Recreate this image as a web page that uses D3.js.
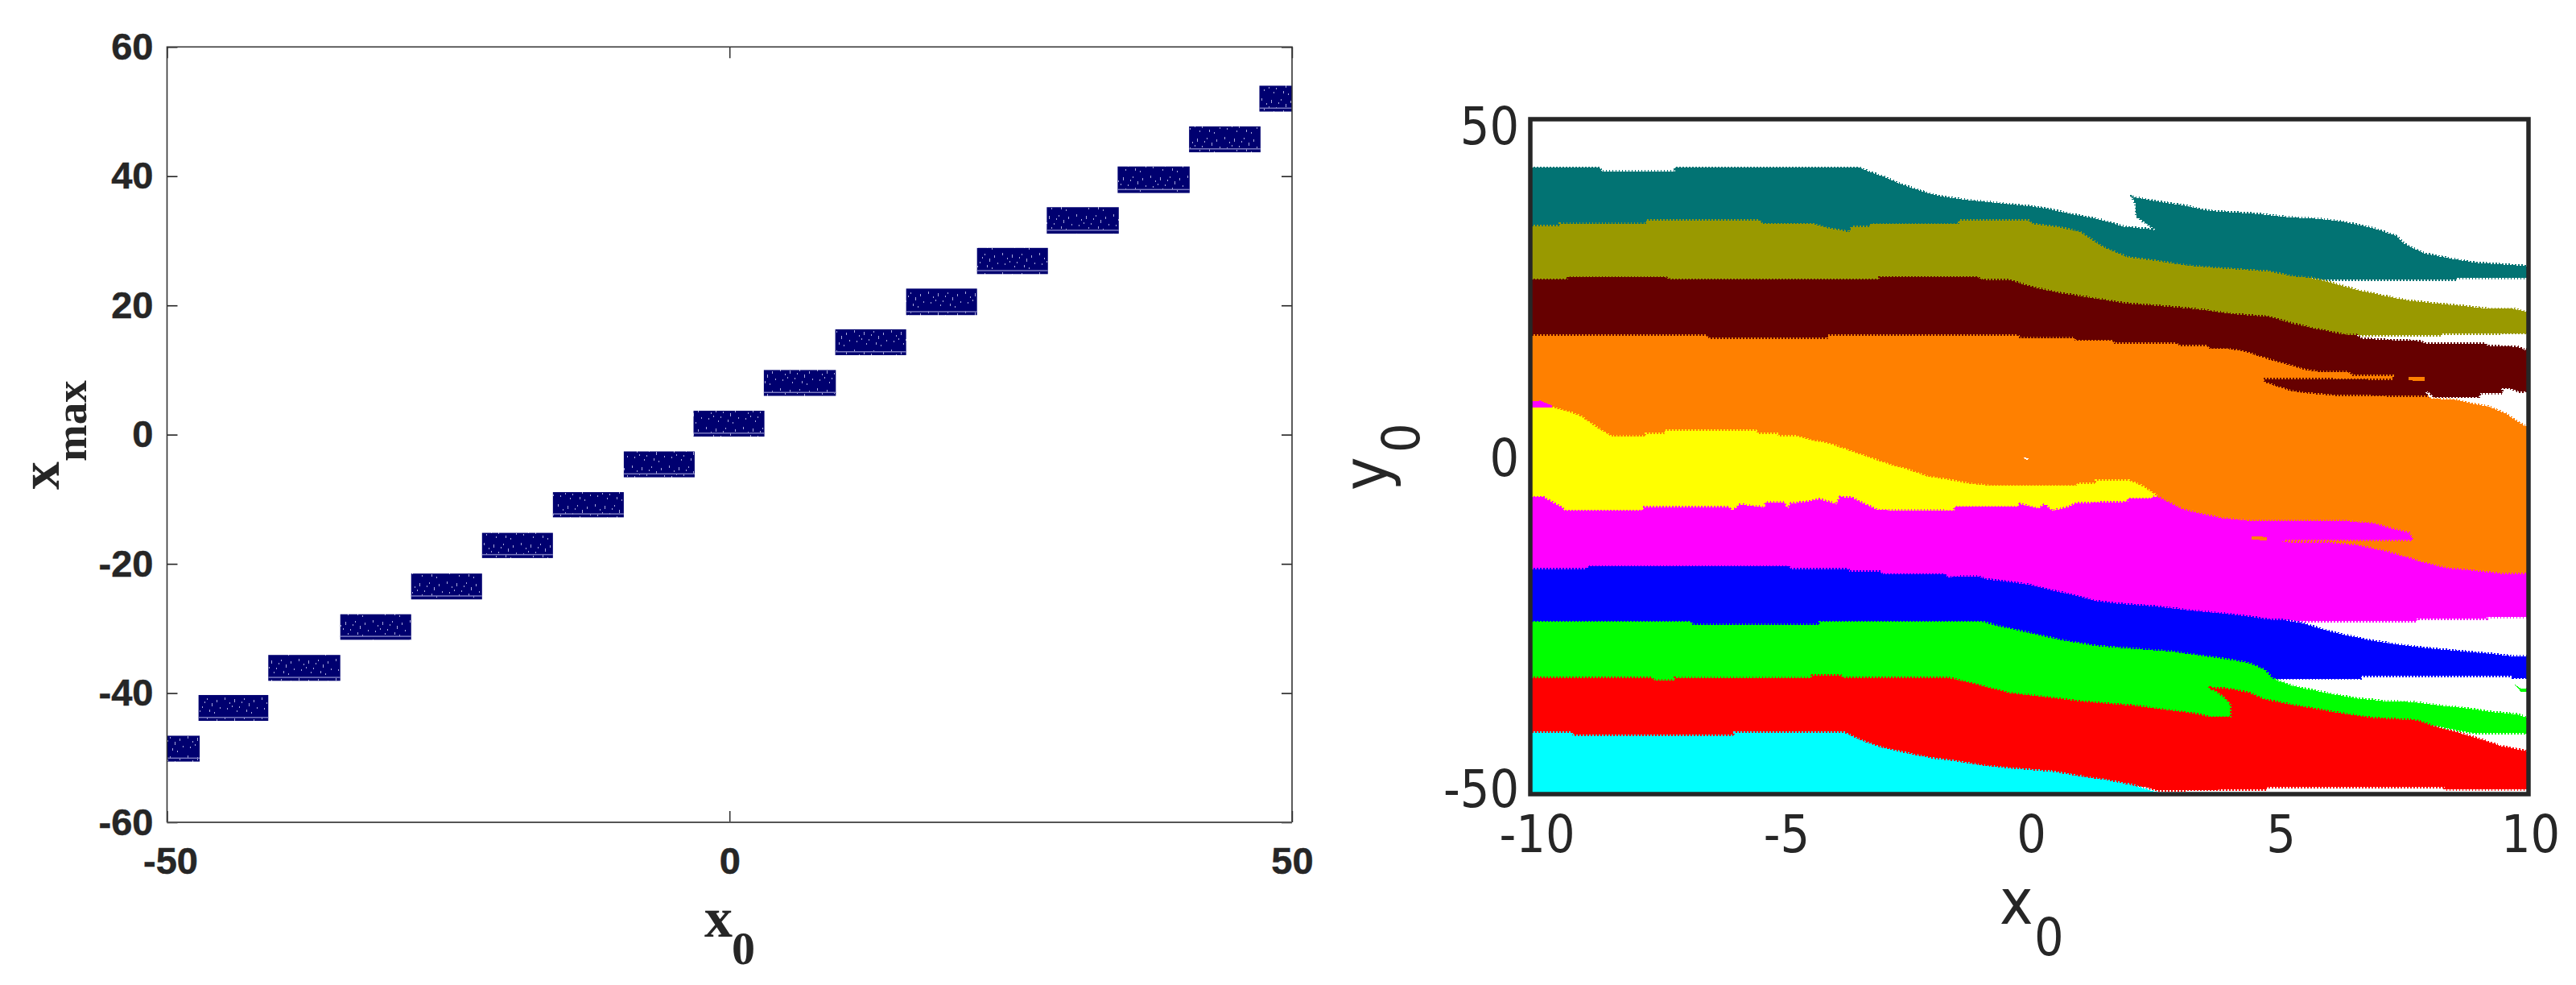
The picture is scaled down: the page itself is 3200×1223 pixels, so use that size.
<!DOCTYPE html>
<html><head><meta charset="utf-8">
<script src="https://cdn.jsdelivr.net/npm/d3@7/dist/d3.min.js"></script>
<style>
html,body{margin:0;padding:0;background:#fff}
svg{display:block}
.l text{font-family:"Liberation Sans",Arial,sans-serif;font-weight:700;font-size:47px;fill:#262626;stroke:#262626;stroke-width:.5}
.r text{font-family:"DejaVu Sans Condensed","DejaVu Sans",sans-serif;fill:#262626}
.s{font-family:"Liberation Serif",serif;font-weight:700;fill:#262626}
</style></head><body>
<svg id="c" width="3200" height="1223"></svg>
<script>
// ---------- left panel data: x0 range and xmax range of each plateau ----------
const plateauX0Start=[-50,-47.2,-41,-34.6,-28.3,-22,-15.7,-9.4,-3.2,3.05,9.4,15.7,22,28.2,34.5,40.85,47.1];
const plateauX0End  =[-47.1,-41,-34.6,-28.3,-22,-15.7,-9.4,-3.1,3.1,9.45,15.7,22,28.3,34.6,40.9,47.2,50];
const plateauLow =[-50.6,-44.3,-38.1,-31.75,-25.5,-19.1,-12.8,-6.6,-0.3,6,12.3,18.5,24.85,31.1,37.4,43.7,50];
const plateauHigh=[-46.6,-40.3,-34.1,-27.8,-21.5,-15.2,-8.9,-2.6,3.7,10,16.3,22.6,28.9,35.2,41.5,47.7,54];
const leftXTicks=[-50,0,50];
const leftYTicks=[-60,-40,-20,0,20,40,60];

// ---------- right panel data: outline of each basin as [x0,y0] ----------
const tealBasin=[[-10,42.8],[-8.61,42.8],[-8.57,42.29],[-7.1,42.29],[-7.1,42.8],[-3.4,42.8],[-3.21,42.2],[-2.9,41.4],[-2.59,40.4],[-2.2,39.4],[-1.82,38.6],[-1.63,38.4],[-1.23,38],[-.87,37.75],[-.43,37.4],[-.02,37.1],[.38,36.7],[.78,36],[1.42,35.1],[1.9,34.05],[2.46,33.65],[2.61,33.2],[2.14,35.6],[2.13,37.4],[2.06,38.5],[2.54,37.8],[3.1,37.2],[3.59,36.4],[4.55,35.96],[5.2,35.45],[5.75,35.25],[6.24,34.85],[6.88,33.85],[7.36,32.66],[7.52,31.46],[7.92,30.07],[8.48,29.28],[8.96,28.7],[9.4,28.5],[10,28.2],[10,26.5],[8.55,26.5],[8.55,26.2],[5.99,26.2],[5.63,26.5],[-10,30]];
const oliveBasin=[[-10,34.13],[-9.4,34.13],[-9.4,34.53],[-7.67,34.53],[-7.67,34.97],[-5.41,34.97],[-5.35,34.45],[-4.33,34.45],[-4.06,33.85],[-3.6,33.25],[-3.56,34.05],[-3.17,34.05],[-3.17,34.45],[-1.41,34.45],[-1.4,34.97],[-.02,34.97],[.06,34.45],[.62,33.93],[1.02,33.25],[1.46,31.07],[1.98,29.48],[2.62,28.88],[3.19,28.28],[3.83,27.88],[4.79,27.41],[5.27,26.7],[5.63,26.5],[6.07,25.7],[6.56,24.7],[7.04,23.9],[7.6,23.1],[8.08,22.7],[8.56,22.4],[9.2,21.9],[9.69,21.9],[10,21.4],[10,18.3],[8.24,18.26],[8.24,18],[6.56,18],[-10,22]];
const maroonBasin=[[-10,26.2],[-9.25,26.2],[-9.25,26.57],[-7.3,26.57],[-7.2,26.2],[-3,26.2],[-3,26.57],[-1.03,26.57],[-.95,26.2],[-.39,26.1],[.06,25.1],[.62,24.2],[1.42,23.3],[1.9,22.7],[2.95,22.1],[3.51,21.7],[4.07,21.1],[4.79,20.7],[5.27,19.7],[5.75,18.9],[6.27,18.1],[6.56,18],[6.64,17.5],[7.04,17.3],[7.84,17.1],[7.92,16.75],[9.12,16.75],[9.2,16.35],[9.77,16.27],[9.93,15.8],[10,15.9],[10,9.8],[9.85,9.6],[9.6,10.2],[9.45,10.2],[9.48,9.4],[9.04,9.4],[9,8.87],[8.1,8.87],[8.03,9.4],[7.92,9.9],[7.98,8.8],[5,8],[-10,12]];
const orangeBasin=[[-10,17.94],[-6.49,17.94],[-6.42,17.46],[-4.03,17.46],[-4.03,17.94],[-.23,17.94],[-.2,17.55],[.9,17.55],[.9,17.15],[1.66,17.15],[1.7,16.75],[2.95,16.75],[3,16.35],[3.55,16.35],[3.6,15.95],[3.99,15.95],[4.31,15.55],[4.71,14.56],[5.19,13.56],[5.51,12.85],[5.79,12.57],[6.36,12.57],[6.48,11.97],[7.28,11.97],[7.28,11.58],[4.67,11.7],[4.71,10.98],[5.19,9.8],[5.51,9.4],[6.11,9],[8,8.8],[8.04,8.6],[8.56,8.4],[8.88,7.8],[9.2,7.4],[9.53,6.4],[9.77,5.2],[9.93,4.5],[10,4.6],[10,-19],[-10,-1]];
const yellowBasin=[[-10,7.28],[-9.57,7.28],[-9.3,6.8],[-9,6],[-8.69,4.4],[-8.38,3],[-7.68,3],[-7.68,3.4],[-7.3,3.4],[-7.3,3.8],[-5.48,3.8],[-5.45,3.4],[-5.06,3.4],[-5.03,3],[-4.67,3],[-4.37,2.43],[-3.98,1.83],[-3.52,.63],[-3.21,-.16],[-2.82,-1.16],[-2.44,-1.95],[-2.05,-2.95],[-1.63,-3.46],[-1.23,-4],[-.75,-4.34],[.94,-4.34],[.98,-4.02],[1.34,-4.02],[1.34,-3.54],[1.98,-3.54],[2.22,-4.22],[2.46,-5.33],[2.58,-6],[2.5,-9],[-10,-10]];
const magentaBasin=[[-10,-6],[-9.75,-6],[-9.38,-7.52],[-9.3,-8.04],[-7.75,-8.04],[-7.72,-7.52],[-6.03,-7.52],[-5.95,-8.04],[-5.8,-7.12],[-5.29,-7.52],[-5.29,-6.8],[-4.91,-6.8],[-4.85,-7.9],[-4.78,-6.95],[-4.44,-6.7],[-4.21,-6.33],[-3.86,-7.04],[-3.79,-6],[-3.56,-6.13],[-3.05,-7.92],[-1.51,-8.04],[-1.49,-7.44],[-.23,-7.44],[-.19,-7.04],[.18,-7.7],[.3,-7.1],[.46,-8.04],[.78,-7.5],[.94,-6.92],[1.98,-6.72],[1.98,-6.25],[2.46,-6.25],[2.46,-5.93],[2.58,-6],[2.86,-7.04],[3.1,-7.92],[3.51,-8.63],[3.83,-9.11],[4.39,-9.51],[6.24,-9.51],[6.88,-9.91],[7.12,-10.42],[7.6,-11.3],[7.68,-12.29],[5.07,-12.29],[5.07,-12.7],[5.96,-12.77],[6.56,-13.17],[7.04,-13.88],[7.44,-14.68],[7.92,-15.79],[8.4,-16.6],[8.8,-16.87],[9.45,-17.38],[10,-17.38],[10,-23.75],[9.16,-23.75],[9.16,-24.03],[7.76,-24.03],[7.76,-24.4],[5.51,-24.4],[5.07,-24.15],[4.5,-25],[-10,-20]];
const blueBasin=[[-10,-16.67],[-8.84,-16.67],[-8.84,-16.27],[-4.83,-16.27],[-4.78,-16.67],[-3.63,-16.67],[-3.6,-17.07],[-2.98,-17.07],[-2.95,-17.46],[-1.7,-17.46],[-1.65,-17.86],[-1.03,-17.74],[-.87,-18.18],[-.43,-18.58],[-.02,-18.97],[.46,-19.85],[.94,-20.65],[1.34,-21.44],[1.82,-21.84],[2.54,-22.24],[3.27,-22.83],[3.83,-23.23],[4.31,-23.63],[4.79,-24.15],[5.07,-24.23],[5.43,-24.62],[6.07,-26.02],[6.8,-27.21],[7.52,-28],[8.08,-28.48],[8.56,-28.8],[9.2,-29.2],[9.69,-29.6],[10,-29.6],[10,-32.78],[9.69,-32.78],[9.69,-32.46],[6.64,-32.46],[6.64,-32.9],[4.87,-32.9],[-10,-28]];
const greenBasin=[[-10,-24.5],[-6.8,-24.5],[-6.75,-24.9],[-4.2,-24.9],[-4.2,-24.5],[-.95,-24.5],[-.59,-25.2],[-.1,-26],[.38,-26.8],[.86,-27.5],[1.34,-28.1],[2.3,-28.6],[2.86,-28.9],[3.51,-29.6],[3.99,-30.1],[4.39,-30.6],[4.71,-31.6],[4.87,-32.9],[5.27,-34],[6.07,-35.2],[6.56,-35.84],[7.12,-36.24],[7.68,-36.36],[8.24,-36.9],[8.8,-37.35],[9.2,-37.8],[9.77,-38.2],[10,-38.75],[10,-41],[8.88,-40.9],[8.56,-40.5],[8.16,-39.9],[-10,-36]];
const redBasin=[[-10,-32.8],[-7.57,-32.8],[-7.5,-33.2],[-7.1,-33.2],[-7.1,-32.8],[-4.37,-32.8],[-4.35,-32.4],[-3.79,-32.4],[-3.72,-32.8],[-1.63,-32.78],[-1.07,-33.77],[-.43,-35],[.38,-35.7],[.94,-36.24],[1.58,-36.64],[2.14,-36.95],[2.62,-37.4],[3.35,-38.15],[3.59,-38.6],[4.03,-38.6],[4.04,-39.1],[4.05,-36.75],[3.91,-35.56],[3.59,-33.97],[3.62,-34.37],[3.95,-34.37],[4.39,-35],[4.71,-36],[5.19,-36.7],[5.99,-37.75],[6.88,-38.75],[7.76,-39.1],[8.16,-40.1],[8.56,-40.85],[8.96,-41.7],[9.45,-42.9],[10,-43.7],[10,-49.3],[8.32,-49.3],[8.32,-48.9],[4.75,-48.9],[4.75,-49.3],[2.58,-49.4],[2.3,-48.9],[-10,-45]];
const cyanBasin=[[-10,-40.93],[-9.17,-40.93],[-9.15,-41.4],[-5.9,-41.4],[-5.9,-40.93],[-3.71,-40.93],[-3.36,-42.1],[-2.98,-43.1],[-2.44,-44],[-1.9,-44.8],[-1.63,-45],[-.91,-45.8],[-.43,-46.2],[.46,-46.7],[.94,-47.3],[1.5,-47.9],[2.06,-48.7],[2.58,-49.8],[2.58,-50],[-10,-50]];
const orangeSpotA=[[7.6,11.8],[7.92,11.8],[7.92,11.2],[7.6,11.3]];
const orangeSpotB=[[4.45,-11.8],[4.75,-11.9],[4.75,-12.4],[4.45,-12.3]];
const magentaSpot=[[-10,8.2],[-9.8,8.3],[-9.57,7.6],[-9.57,7.28],[-10,7.28]];
const greenSpot=[[9.73,-33.8],[9.85,-34.4],[9.97,-34.3],[9.97,-34.8],[9.85,-34.85]];
const whiteSpot=[[-.1,-.05],[-.02,-.3],[-.04,-.5],[-.12,-.2]];
const rightXTicks=[-10,-5,0,5,10];
const rightYTicks=[-50,0,50];

const basins=[
 {pts:tealBasin,col:"#027373"},{pts:oliveBasin,col:"#999900"},{pts:maroonBasin,col:"#660000"},
 {pts:orangeBasin,col:"#ff8000"},{pts:yellowBasin,col:"#ffff00"},{pts:magentaBasin,col:"#ff00ff"},
 {pts:blueBasin,col:"#0000ff"},{pts:greenBasin,col:"#00ff00"},{pts:redBasin,col:"#ff0000"},{pts:cyanBasin,col:"#00ffff"}];
const spots=[
 {pts:orangeSpotA,col:"#ff8000"},{pts:orangeSpotB,col:"#ff8000"},{pts:magentaSpot,col:"#ff00ff"},
 {pts:greenSpot,col:"#00ff00"},{pts:whiteSpot,col:"#ffffff"}];

const hyphenInt=v=>String(v); // the figure uses a plain hyphen for negatives

const svg=d3.select("#c");
const defs=svg.append("defs");

// ----- left panel -----
const xL=d3.scaleLinear().domain([-50,50]).range([207.5,1605]);
const yL=d3.scaleLinear().domain([-60,60]).range([1021,58.3]);
const L=svg.append("g").attr("class","l");

const pat=defs.append("pattern").attr("id","speck").attr("patternUnits","userSpaceOnUse").attr("width",46).attr("height",24);
pat.append("rect").attr("width",46).attr("height",24).attr("fill","#000070");
[[3,2,1,3],[9,8,1,2],[15,4,1,4],[21,13,1,2],[27,3,1,2],[33,9,1,4],[39,5,1,3],[6,15,1,2],[18,18,1,2],[30,17,1,3],[43,14,1,2],[12,12,1,2],[36,20,1,2],[24,7,1,2]]
 .forEach(s=>pat.append("rect").attr("x",s[0]).attr("y",s[1]).attr("width",s[2]).attr("height",s[3]).attr("fill","#a8a8dc"));

const bars=d3.range(plateauLow.length).map(i=>({x0:plateauX0Start[i],x1:plateauX0End[i],lo:plateauLow[i],hi:plateauHigh[i]}));
L.append("g").selectAll("rect").data(bars).join("rect")
 .attr("x",d=>xL(d.x0)).attr("width",d=>xL(d.x1)-xL(d.x0))
 .attr("y",d=>yL(d.hi)).attr("height",d=>yL(d.lo)-yL(d.hi))
 .attr("fill","url(#speck)");
L.append("g").selectAll("rect").data(bars).join("rect")
 .attr("x",d=>xL(d.x0)).attr("width",d=>xL(d.x1)-xL(d.x0))
 .attr("y",d=>yL(d.lo)-5).attr("height",1.5).attr("fill","#7a7ac0");

function styleAxis(g,w){g.selectAll("path.domain").remove();g.selectAll(".tick line").attr("stroke","#222").attr("stroke-width",w);}
L.append("g").attr("transform","translate(207.5,0)")
 .call(d3.axisLeft(yL).tickValues(leftYTicks).tickSize(-13).tickPadding(17).tickFormat(hyphenInt))
 .call(g=>styleAxis(g,1.6)).call(g=>g.attr("font-size",null).attr("font-family",null));
L.append("g").attr("transform","translate(1605,0)")
 .call(d3.axisRight(yL).tickValues(leftYTicks).tickSize(-13).tickFormat(""))
 .call(g=>styleAxis(g,1.6));
L.append("g").attr("transform","translate(0,1021)")
 .call(d3.axisBottom(xL).tickValues(leftXTicks).tickSize(-14).tickPadding(31).tickFormat(hyphenInt))
 .call(g=>styleAxis(g,1.4)).call(g=>g.attr("font-size",null).attr("font-family",null))
 .call(g=>g.selectAll("text").attr("dx",d=>d<0?4:0));
L.append("g").attr("transform","translate(0,58.3)")
 .call(d3.axisTop(xL).tickValues(leftXTicks).tickSize(-14).tickFormat(""))
 .call(g=>styleAxis(g,1.4));
L.append("path").attr("fill","none").attr("stroke","#333").attr("stroke-width",1.6)
 .attr("d",`M207.5,1021V58.3H1605V1021`);
L.append("path").attr("fill","none").attr("stroke","#555").attr("stroke-width",2.2).attr("d","M207.5,1021H1605");

function label(t,x,y,size,cls,rot){
 const e=svg.append("text").attr("class",cls).attr("font-size",size).text(t);
 e.attr("transform",`translate(${x},${y})`+(rot?" rotate(-90)":""));
 return e;
}
label("x",875,1163,70,"s");
label("0",909,1197,58,"s");
label("x",73,608,70,"s",true);
label("max",107,573,55,"s",true);

// ----- right panel -----
const xR=d3.scaleLinear().domain([-10,10]).range([1901,3141]);
const yR=d3.scaleLinear().domain([50,-50]).range([148,986]);
const R=svg.append("g").attr("class","r");
defs.append("clipPath").attr("id","pl").append("rect").attr("x",1901).attr("y",148).attr("width",1240).attr("height",838);
const line=d3.line().x(d=>xR(d[0])).y(d=>yR(d[1])).curve(d3.curveLinear);
const P=R.append("g").attr("clip-path","url(#pl)");
P.selectAll("path.b").data(basins).join("path").attr("class","b")
 .attr("d",d=>line(d.pts)+"Z").attr("fill",d=>d.col)
 .attr("stroke",d=>d.col).attr("stroke-width",3.5).attr("stroke-dasharray","1.6 2.4")
 .attr("shape-rendering","crispEdges");
P.selectAll("path.sp").data(spots).join("path").attr("class","sp")
 .attr("d",d=>line(d.pts)+"Z").attr("fill",d=>d.col).attr("shape-rendering","crispEdges");

R.append("rect").attr("x",1901).attr("y",148).attr("width",1240).attr("height",838)
 .attr("fill","none").attr("stroke","#262626").attr("stroke-width",5.5);

// tick labels sit on their own baselines, pulled inward at the extremes as in the figure
const yLab=d3.scaleLinear().domain([50,-50]).range([178.3,1001.7]);
const yAxisLabels=R.append("g").attr("transform","translate(1887,0)")
 .call(d3.axisLeft(yLab).tickValues(rightYTicks).tickSize(0).tickPadding(0).tickFormat(hyphenInt));
yAxisLabels.attr("font-size",null).attr("font-family",null);
yAxisLabels.select("path.domain").remove();
yAxisLabels.selectAll("text").attr("font-size",64).attr("dy",0).attr("y",0);
const xAxisLabels=R.append("g").attr("transform","translate(0,1058)")
 .call(d3.axisBottom(xR).tickValues(rightXTicks).tickSize(0).tickPadding(0).tickFormat(hyphenInt));
xAxisLabels.attr("font-size",null).attr("font-family",null);
xAxisLabels.select("path.domain").remove();
xAxisLabels.selectAll("text").attr("font-size",64).attr("dy",0).attr("y",0)
 .attr("dx",d=>d<0?8:2);

const t=(s,x,y,size,rot)=>R.append("text").attr("font-size",size)
 .attr("transform",`translate(${x},${y})`+(rot?" rotate(-90)":"")).text(s);
t("x",2484,1147,78);
t("0",2527,1186,64);
t("y",1724,609,78,true);
t("0",1763,562,64,true);
</script>
</body></html>
